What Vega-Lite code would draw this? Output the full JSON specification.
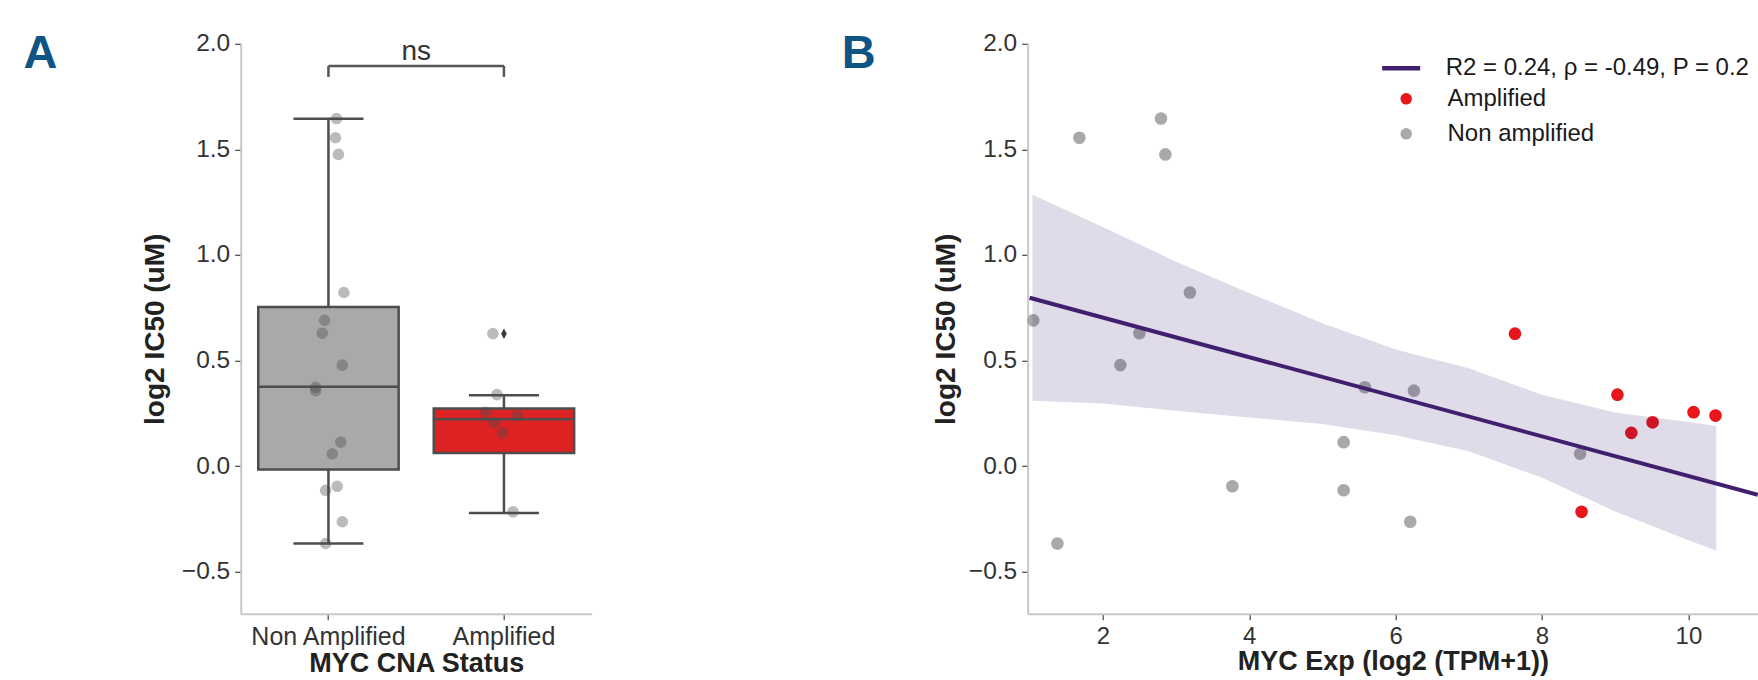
{
  "$schema": "https://vega.github.io/schema/vega-lite/v6.json",
  "autosize": {"type": "pad"},
  "padding": {"left": 22.7, "top": 28.8, "right": 0, "bottom": 0},
  "background": "white",
  "config": {
    "font": "Liberation Sans",
    "view": {"stroke": null},
    "axis": {
      "grid": false,
      "domainColor": "#c8c8c8",
      "domainWidth": 2,
      "tickColor": "#444444",
      "tickWidth": 1.2,
      "tickSize": 6,
      "labelFont": "Liberation Sans",
      "labelFontSize": 24.5,
      "labelColor": "#333333",
      "labelPadding": 5,
      "labelFlush": false,
      "titleFont": "Liberation Sans",
      "titleFontSize": 28,
      "titleFontWeight": "bold",
      "titleColor": "#222222"
    }
  },
  "datasets": {
    "cells": [
      {"status": "Non Amplified", "exp": 2.795, "ic50": 1.646, "jitter": 0.046},
      {"status": "Non Amplified", "exp": 1.68, "ic50": 1.555, "jitter": 0.04},
      {"status": "Non Amplified", "exp": 2.855, "ic50": 1.476, "jitter": 0.057},
      {"status": "Non Amplified", "exp": 3.19, "ic50": 0.822, "jitter": 0.088},
      {"status": "Non Amplified", "exp": 1.05, "ic50": 0.69, "jitter": -0.022},
      {"status": "Non Amplified", "exp": 2.5, "ic50": 0.629, "jitter": -0.035},
      {"status": "Non Amplified", "exp": 2.24, "ic50": 0.478, "jitter": 0.079},
      {"status": "Non Amplified", "exp": 5.58, "ic50": 0.373, "jitter": -0.073},
      {"status": "Non Amplified", "exp": 6.25, "ic50": 0.357, "jitter": -0.073},
      {"status": "Non Amplified", "exp": 5.29, "ic50": 0.113, "jitter": 0.07},
      {"status": "Non Amplified", "exp": 8.52, "ic50": 0.058, "jitter": 0.022},
      {"status": "Non Amplified", "exp": 3.77, "ic50": -0.096, "jitter": 0.05},
      {"status": "Non Amplified", "exp": 5.29, "ic50": -0.115, "jitter": -0.016},
      {"status": "Non Amplified", "exp": 6.2, "ic50": -0.264, "jitter": 0.079},
      {"status": "Non Amplified", "exp": 1.38, "ic50": -0.367, "jitter": -0.016},
      {"status": "Amplified", "exp": 7.63, "ic50": 0.627, "jitter": -0.063},
      {"status": "Amplified", "exp": 9.03, "ic50": 0.338, "jitter": -0.04},
      {"status": "Amplified", "exp": 10.07, "ic50": 0.255, "jitter": -0.104},
      {"status": "Amplified", "exp": 10.37, "ic50": 0.239, "jitter": 0.077},
      {"status": "Amplified", "exp": 9.51, "ic50": 0.207, "jitter": -0.057},
      {"status": "Amplified", "exp": 9.22, "ic50": 0.157, "jitter": -0.009},
      {"status": "Amplified", "exp": 8.54, "ic50": -0.217, "jitter": 0.052}
    ],
    "boxes": [
      {"status": "Non Amplified", "lower": -0.367, "q1": -0.016, "median": 0.376, "q3": 0.753, "upper": 1.645},
      {"status": "Amplified", "lower": -0.222, "q1": 0.062, "median": 0.221, "q3": 0.272, "upper": 0.335}
    ],
    "band": [
      {"exp": 1.04, "lo": 0.309, "hi": 1.285},
      {"exp": 2.0, "lo": 0.296, "hi": 1.132},
      {"exp": 3.0, "lo": 0.262, "hi": 0.968},
      {"exp": 4.0, "lo": 0.23, "hi": 0.82},
      {"exp": 5.0, "lo": 0.199, "hi": 0.676},
      {"exp": 6.0, "lo": 0.146, "hi": 0.552},
      {"exp": 7.0, "lo": 0.07, "hi": 0.463},
      {"exp": 8.0, "lo": -0.056, "hi": 0.338},
      {"exp": 9.0, "lo": -0.215, "hi": 0.254},
      {"exp": 10.0, "lo": -0.352, "hi": 0.208},
      {"exp": 10.38, "lo": -0.4, "hi": 0.19}
    ],
    "fit": [
      {"exp": 1.0, "ic50": 0.797, "label": "R2 = 0.24, ρ = -0.49, P = 0.2"},
      {"exp": 10.947, "ic50": -0.136, "label": "R2 = 0.24, ρ = -0.49, P = 0.2"}
    ]
  },
  "bounds": "flush",
  "spacing": 436,
  "resolve": {"scale": {"color": "independent", "fill": "independent", "stroke": "independent"}},
  "hconcat": [
    {
      "width": 351,
      "height": 570,
      "title": {"text": "A", "anchor": "start", "frame": "group", "orient": "top", "fontSize": 47, "font": "Liberation Sans", "fontWeight": "bold", "color": "#0e5484", "dx": -217.3, "dy": 83.7, "offset": 0, "baseline": "alphabetic", "align": "left"},
      "encoding": {
        "x": {"field": "status", "type": "nominal", "sort": ["Non Amplified", "Amplified"],
              "scale": {"domain": ["Non Amplified", "Amplified"], "paddingInner": 0, "paddingOuter": 0},
              "axis": {"labelAngle": 0, "labelFontSize": 25, "labelPadding": 5, "titlePadding": 1, "titleFontSize": 27},
              "title": "MYC CNA Status"}
      },
      "layer": [
        {
          "data": {"name": "boxes"},
          "mark": {"type": "rule", "color": "#4d4d4d", "strokeWidth": 2.5},
          "encoding": {
            "y": {"field": "lower", "type": "quantitative", "scale": {"domain": [-0.7, 2.0], "nice": false, "zero": false},
                  "axis": {"values": [-0.5, 0, 0.5, 1, 1.5, 2], "format": ".1f", "titlePadding": 12},
                  "title": "log2 IC50 (uM)"},
            "y2": {"field": "upper"}
          }
        },
        {
          "data": {"name": "boxes"},
          "mark": {"type": "bar", "stroke": "#4d4d4d", "strokeWidth": 2.5, "width": 140.4, "opacity": 1},
          "encoding": {
            "y": {"field": "q1", "type": "quantitative"},
            "y2": {"field": "q3"},
            "color": {"field": "status", "type": "nominal", "scale": {"domain": ["Non Amplified", "Amplified"], "range": ["#a9a9a9", "#dc2222"]}, "legend": null}
          }
        },
        {
          "data": {"name": "boxes"},
          "mark": {"type": "tick", "color": "#4d4d4d", "thickness": 2.5, "size": 140.4, "opacity": 1},
          "encoding": {"y": {"field": "median", "type": "quantitative"}}
        },
        {
          "data": {"name": "boxes"},
          "mark": {"type": "tick", "color": "#4d4d4d", "thickness": 2.5, "size": 70, "opacity": 1},
          "encoding": {"y": {"field": "upper", "type": "quantitative"}}
        },
        {
          "data": {"name": "boxes"},
          "mark": {"type": "tick", "color": "#4d4d4d", "thickness": 2.5, "size": 70, "opacity": 1},
          "encoding": {"y": {"field": "lower", "type": "quantitative"}}
        },
        {
          "data": {"name": "cells"},
          "mark": {"type": "point", "filled": true, "shape": "circle", "color": "#4d4d4d", "opacity": 0.38, "size": 135, "strokeWidth": 0},
          "encoding": {
            "xOffset": {"field": "jitter", "type": "quantitative", "scale": {"domain": [-0.5, 0.5], "range": [0, 175.5]}},
            "y": {"field": "ic50", "type": "quantitative"}
          }
        },
        {
          "data": {"name": "cells"},
          "transform": [{"filter": "datum.status == 'Amplified' && datum.ic50 > 0.5"}],
          "mark": {"type": "point", "filled": true, "shape": "M0,-1L0.55,0L0,1L-0.55,0Z", "color": "#3d3d3d", "opacity": 1, "size": 110, "strokeWidth": 0},
          "encoding": {"y": {"field": "ic50", "type": "quantitative"}}
        },
        {
          "data": {"values": [{}]},
          "mark": {"type": "rule", "color": "#555555", "strokeWidth": 2.5},
          "encoding": {
            "x": {"datum": "Non Amplified"},
            "x2": {"datum": "Amplified"},
            "y": {"datum": 1.895, "type": "quantitative"}
          }
        },
        {
          "data": {"values": [{}]},
          "mark": {"type": "rule", "color": "#555555", "strokeWidth": 2.5},
          "encoding": {
            "x": {"datum": "Non Amplified"},
            "y": {"datum": 1.843, "type": "quantitative"},
            "y2": {"datum": 1.895}
          }
        },
        {
          "data": {"values": [{}]},
          "mark": {"type": "rule", "color": "#555555", "strokeWidth": 2.5},
          "encoding": {
            "x": {"datum": "Amplified"},
            "y": {"datum": 1.843, "type": "quantitative"},
            "y2": {"datum": 1.895}
          }
        },
        {
          "data": {"values": [{"label": "ns"}]},
          "mark": {"type": "text", "align": "center", "baseline": "alphabetic", "fontSize": 28, "color": "#333333", "font": "Liberation Sans"},
          "encoding": {
            "x": {"datum": "Non Amplified"},
            "xOffset": {"datum": 0.5},
            "y": {"datum": 1.924, "type": "quantitative"},
            "text": {"field": "label"}
          }
        }
      ]
    },
    {
      "width": 730.3,
      "height": 570,
      "title": {"text": "B", "anchor": "start", "frame": "group", "orient": "top", "fontSize": 47, "font": "Liberation Sans", "fontWeight": "bold", "color": "#0e5484", "dx": -186, "dy": 83.7, "offset": 0, "baseline": "alphabetic", "align": "left"},
      "encoding": {
        "x": {"field": "exp", "type": "quantitative",
              "scale": {"domain": [0.974, 10.95], "nice": false, "zero": false},
              "axis": {"values": [2, 4, 6, 8, 10], "format": "d", "labelFontSize": 24, "labelPadding": 5, "titlePadding": 0, "titleFontSize": 27},
              "title": "MYC Exp (log2 (TPM+1))"},
        "y": {"type": "quantitative", "scale": {"domain": [-0.7, 2.0], "nice": false, "zero": false},
              "axis": {"values": [-0.5, 0, 0.5, 1, 1.5, 2], "format": ".1f", "titlePadding": 8},
              "title": "log2 IC50 (uM)"}
      },
      "layer": [
        {
          "data": {"name": "cells"},
          "mark": {"type": "point", "filled": true, "shape": "circle", "opacity": 1, "size": 160, "strokeWidth": 0},
          "encoding": {
            "y": {"field": "ic50", "type": "quantitative"},
            "fill": {"field": "status", "type": "nominal",
                     "scale": {"domain": ["Amplified", "Non Amplified"], "range": ["#e8151b", "#a9a9a9"]},
                     "legend": {"title": null, "orient": "none", "legendX": 366.5, "legendY": 43, "padding": 0,
                                "symbolType": "circle", "symbolSize": 133, "symbolStrokeWidth": 0, "symbolOpacity": 1,
                                "labelOffset": 29.3, "labelFontSize": 24, "labelFont": "Liberation Sans", "labelColor": "#1a1a1a",
                                "rowPadding": 11, "labelLimit": 500,
                                "labelExpr": "datum.label == 'Non Amplified' ? 'Non amplified' : datum.label"}}
          }
        },
        {
          "data": {"name": "band"},
          "mark": {"type": "area", "color": "#3f1f6e", "opacity": 0.16},
          "encoding": {
            "y": {"field": "hi", "type": "quantitative"},
            "y2": {"field": "lo"}
          }
        },
        {
          "data": {"name": "fit"},
          "mark": {"type": "line", "strokeWidth": 4},
          "encoding": {
            "y": {"field": "ic50", "type": "quantitative"},
            "stroke": {"field": "label", "type": "nominal",
                       "scale": {"range": ["#3f1f6e"]},
                       "legend": {"title": null, "orient": "none", "legendX": 352, "legendY": 3, "padding": 0,
                                  "symbolType": "stroke", "symbolSize": 1444, "symbolStrokeWidth": 4.5,
                                  "labelOffset": 23, "labelFontSize": 24, "labelFont": "Liberation Sans", "labelColor": "#1a1a1a",
                                  "labelLimit": 500}}
          }
        }
      ]
    }
  ]
}
